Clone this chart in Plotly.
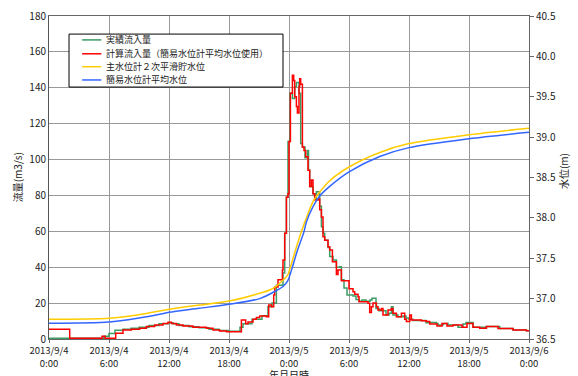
import pandas as pd
import plotly.graph_objects as go

BASE = pd.Timestamp("2013-09-04 00:00")

# 実績流入量 (hours from 2013/9/4 0:00, m3/s), step series
obs_h = [0.0, 5.5, 6.0, 6.6, 7.4, 8.2, 9.0, 10.0, 11.0, 11.9, 12.4, 13.0, 14.0, 15.0,
         16.0, 17.0, 18.0, 19.1, 19.4, 20.3, 21.3, 21.9, 22.3, 22.74, 23.4, 23.57, 23.74,
         23.9, 24.1, 24.34, 24.57, 24.74, 25.0, 25.17, 25.34, 25.6, 25.85, 25.95, 26.07,
         26.4, 26.57, 26.74, 27.07, 27.24, 27.4, 27.57, 27.9, 28.07, 28.4, 28.74, 29.07,
         29.24, 29.5, 29.8, 30.4, 30.7, 31.0, 31.3, 31.7, 32.1, 32.3, 32.7, 33.0, 33.4,
         33.7, 34.0, 34.24, 34.4, 34.9, 35.4, 35.7, 36.0, 36.4, 36.7, 37.2, 37.7, 38.07,
         38.74, 38.9, 39.4, 39.9, 40.7, 40.9, 41.4, 41.7, 42.4, 43.07, 43.74, 45.07, 46.4,
         47.74, 48.0]
obs_q = [0.4, 1.5, 3.0, 4.9, 5.5, 6.0, 6.5, 7.5, 8.5, 9.0, 8.5, 7.5, 6.8, 6.2,
         5.5, 4.8, 4.3, 6.5, 8.5, 11.0, 13.0, 18.0, 20.0, 30.0, 36.8, 59.0, 79.0,
         110.0, 137.0, 134.0, 140.6, 143.0, 137.0, 109.0, 107.0, 101.0, 105.0, 94.0, 85.0,
         81.0, 78.0, 82.0, 74.0, 62.6, 59.0, 55.0, 51.0, 46.0, 44.0, 40.0, 40.3,
         33.0, 28.4, 24.5, 24.0, 22.0, 21.0, 21.7, 21.0, 21.7, 22.7, 17.0, 15.8, 15.8,
         13.4, 14.3, 18.0, 13.4, 12.4, 12.8, 11.7, 11.0, 10.3, 10.3, 10.3, 9.0, 9.2,
         8.7, 7.8, 8.7, 7.8, 7.8, 6.5, 8.4, 9.2, 6.5, 6.5, 7.0, 5.8, 5.0,
         4.6, 4.6]

# 計算流入量（簡易水位計平均水位使用）
calc_h = [0.0, 2.07, 5.3, 5.6, 6.67, 7.4, 8.24, 9.07, 9.74, 10.57, 11.4, 11.9, 12.24,
          12.74, 13.4, 14.4, 15.74, 16.4, 17.07, 17.74, 19.24, 19.67, 19.9, 20.4, 20.74,
          21.07, 21.74, 21.97, 22.24, 22.47, 22.57, 22.9, 23.34, 23.4, 23.57, 23.74, 23.9,
          24.0, 24.14, 24.34, 24.47, 24.57, 24.74, 24.84, 25.0, 25.07, 25.17, 25.34, 25.5,
          25.67, 25.9, 26.07, 26.24, 26.4, 26.57, 26.9, 27.07, 27.24, 27.4, 27.57, 27.9,
          28.07, 28.34, 28.74, 28.9, 29.24, 30.0, 30.4, 30.57, 30.9, 31.0, 31.9, 32.07,
          32.24, 32.4, 32.74, 32.9, 33.24, 33.4, 33.9, 34.24, 34.4, 34.74, 35.24, 35.57,
          35.74, 36.07, 36.24, 37.24, 37.74, 38.07, 38.8, 39.3, 39.8, 40.4, 41.3, 41.8,
          42.4, 43.07, 43.74, 44.9, 46.4, 47.74, 48.0]
calc_q = [5.4, 0.4, 1.5, 0.4, 3.2, 5.0, 5.4, 6.0, 6.9, 7.8, 8.7, 9.3, 8.7,
          7.8, 7.2, 6.5, 6.0, 5.0, 4.5, 4.1, 10.6, 8.5, 9.5, 11.0, 12.0,
          12.8, 12.4, 19.0, 18.0, 24.5, 29.0, 33.0, 38.5, 44.0, 59.0, 79.0, 81.0,
          110.0, 137.0, 147.0, 144.0, 135.0, 129.5, 126.0, 140.6, 145.0, 142.0, 107.0, 105.0,
          101.6, 94.0, 85.0, 88.6, 81.0, 77.5, 78.0, 72.0, 68.0, 57.0, 55.0, 51.4,
          49.6, 43.0, 36.0, 38.5, 32.5, 28.0, 26.4, 25.0, 23.6, 20.8, 19.9, 14.7,
          18.0, 20.0, 18.0, 16.2, 17.0, 13.4, 16.2, 17.0, 14.3, 12.4, 14.3, 11.0,
          9.7, 13.4, 10.6, 10.2, 9.7, 8.4, 7.2, 8.7, 7.2, 7.8, 6.5, 8.7,
          6.5, 6.0, 7.0, 5.8, 5.0, 4.6, 4.6]

# 主水位計２次平滑貯水位 (m)
main_h = [0.0, 6.0, 9.0, 12.0, 15.0, 18.0, 21.07, 22.07, 22.74, 23.4, 23.87, 24.14,
          24.6, 25.24, 25.74, 26.4, 27.07, 28.07, 30.0, 33.07, 36.0, 42.0, 48.0]
main_wl = [36.744, 36.756, 36.80, 36.868, 36.92, 36.97, 37.066, 37.107, 37.156, 37.23,
           37.29, 37.39, 37.58, 37.83, 38.0, 38.20, 38.32, 38.46, 38.63, 38.81, 38.92,
           39.03, 39.11]

# 簡易水位計平均水位 (m)
simple_h = [0.0, 6.0, 9.0, 11.07, 12.0, 15.0, 18.0, 21.07, 22.74, 23.4, 23.87, 24.34,
            24.8, 25.5, 25.74, 26.4, 27.07, 28.07, 30.0, 33.07, 36.0, 42.0, 48.0]
simple_wl = [36.694, 36.71, 36.76, 36.806, 36.83, 36.88, 36.93, 37.00, 37.10, 37.15,
             37.22, 37.39, 37.58, 37.83, 37.95, 38.14, 38.27, 38.39, 38.57, 38.76, 38.87,
             38.98, 39.06]

tick_hours = [0, 6, 12, 18, 24, 30, 36, 42, 48]
tick_text = ["2013/9/4<br>0:00", "2013/9/4<br>6:00", "2013/9/4<br>12:00", "2013/9/4<br>18:00",
             "2013/9/5<br>0:00", "2013/9/5<br>6:00", "2013/9/5<br>12:00", "2013/9/5<br>18:00",
             "2013/9/6<br>0:00"]

names = ["実績流入量", "計算流入量（簡易水位計平均水位使用）", "主水位計２次平滑貯水位", "簡易水位計平均水位"]
colors = ["#3c9c64", "#ff0000", "#ffcc00", "#3366ff"]


def to_time(hours):
    return BASE + pd.to_timedelta(hours, unit="h")


FONT = "Noto Sans CJK JP"

fig = go.Figure()
fig.add_trace(go.Scatter(x=to_time(obs_h), y=obs_q, mode="lines", line_shape="hv",
                         line=dict(color=colors[0], width=1.5), name=names[0]))
fig.add_trace(go.Scatter(x=to_time(calc_h), y=calc_q, mode="lines", line_shape="hv",
                         line=dict(color=colors[1], width=1.5), name=names[1]))
fig.add_trace(go.Scatter(x=to_time(main_h), y=main_wl, mode="lines", line_shape="spline",
                         line=dict(color=colors[2], width=1.5, smoothing=0.8), name=names[2], yaxis="y2"))
fig.add_trace(go.Scatter(x=to_time(simple_h), y=simple_wl, mode="lines", line_shape="spline",
                         line=dict(color=colors[3], width=1.5, smoothing=0.8), name=names[3], yaxis="y2"))

grid = "#999999"
fig.update_layout(
    width=578, height=376,
    margin=dict(l=49, r=49, t=16, b=37),
    paper_bgcolor="white", plot_bgcolor="white",
    showlegend=False,
    font=dict(family=FONT, size=10, color="#222"),
    xaxis=dict(type="date", range=[to_time(0), to_time(48)], automargin=False,
               tickvals=list(to_time(tick_hours)), ticktext=tick_text,
               showgrid=True, gridcolor=grid, gridwidth=1.2,
               showline=True, linecolor="#666", linewidth=1, mirror=True,
               ticks="outside", ticklen=3, tickcolor="#666",
               tickfont=dict(size=9.5), zeroline=False),
    yaxis=dict(range=[0, 180], dtick=20, showgrid=True, gridcolor=grid, gridwidth=1.2,
               showline=True, linecolor="#555", linewidth=1, ticks="", automargin=False,
               tickfont=dict(size=10), zeroline=False),
    yaxis2=dict(range=[36.5, 40.5], dtick=0.5, tickformat=".1f", overlaying="y", side="right",
                showgrid=False, showline=True, linecolor="#666", linewidth=1, automargin=False,
                ticks="outside", ticklen=4, tickcolor="#666", tickfont=dict(size=10),
                zeroline=False),
)

# axis titles
fig.add_annotation(text="流量(m3/s)", xref="paper", yref="paper", x=-0.065, y=0.5,
                   xanchor="center", yanchor="middle",
                   textangle=-90, showarrow=False, font=dict(size=10))
fig.add_annotation(text="水位(m)", xref="paper", yref="paper", x=1.071, y=0.52,
                   xanchor="center", yanchor="middle",
                   textangle=-90, showarrow=False, font=dict(size=10))
fig.add_annotation(text="年月日時", xref="paper", yref="paper", x=0.5, y=-0.11,
                   xanchor="center", yanchor="middle", showarrow=False, font=dict(size=10))

# legend box
fig.add_shape(type="rect", xref="paper", yref="paper", x0=0.0417, x1=0.4875, y0=0.780, y1=0.944,
              line=dict(color="black", width=1), fillcolor="white", layer="above")
row_y = [0.926, 0.883, 0.843, 0.802]
for name, color, yy in zip(names, colors, row_y):
    fig.add_shape(type="line", xref="paper", yref="paper", x0=0.069, x1=0.109, y0=yy, y1=yy,
                  line=dict(color=color, width=1.5), layer="above")
    fig.add_annotation(text=name, xref="paper", yref="paper", x=0.114, y=yy, xanchor="left",
                       yanchor="middle", showarrow=False, font=dict(size=9))

fig.write_html("out.html")
